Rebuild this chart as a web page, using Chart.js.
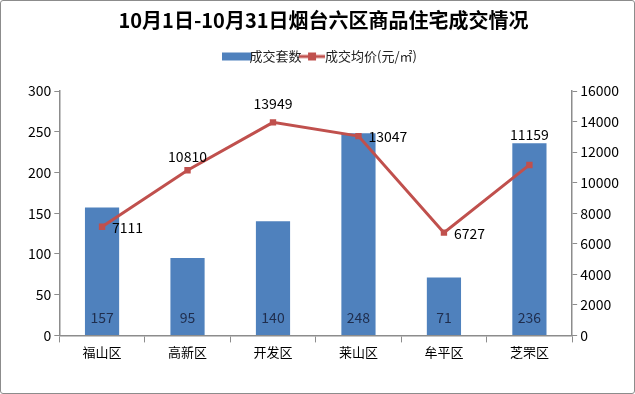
<!DOCTYPE html>
<html>
<head>
<meta charset="utf-8">
<script src="https://cdn.jsdelivr.net/npm/chart.js@4.4.0/dist/chart.umd.min.js"></script>
<style>
    html, body { margin: 0; padding: 0; background: #fff; }
    #wrap { position: relative; width: 633px; height: 392px; border: 1px solid #8c8c8c; border-radius: 3px; }
</style>
</head>
<body>
<div id="wrap"><canvas id="myChart" width="633" height="392"></canvas></div>
<script>
const districts = ['福山区', '高新区', '开发区', '莱山区', '牟平区', '芝罘区'];
const dealCount = [157, 95, 140, 248, 71, 236];
const avgPrice = [7111, 10810, 13949, 13047, 6727, 11159];
const countTicks = [0, 50, 100, 150, 200, 250, 300];
const priceTicks = [0, 2000, 4000, 6000, 8000, 10000, 12000, 14000, 16000];

// where each price label sits relative to its marker, and how far off
const priceLabelSide = ['right', 'top', 'top', 'right', 'right', 'top'];
const priceLabelGap = [10, 14, 19, 10, 10, 30];

const barColor = '#4F81BD';
const lineColor = '#C0504D';
const fontName = '"Noto Sans CJK SC", "Noto Sans", sans-serif';

// legend swatches
function swatch(kind) {
    let c = document.createElement('canvas');
    c.width = kind === 'bar' ? 30 : 26;
    c.height = 12;
    let g = c.getContext('2d');
    if (kind === 'bar') {
        g.fillStyle = barColor;
        g.fillRect(0, 2, 30, 8);
    } else {
        g.strokeStyle = lineColor;
        g.lineWidth = 3;
        g.beginPath();
        g.moveTo(0, 6);
        g.lineTo(26, 6);
        g.stroke();
        g.fillStyle = lineColor;
        g.fillRect(9, 2, 8, 8);
    }
    return c;
}

const legendGap = {
    id: 'legendGap',
    beforeInit(chart) {
        const fit = chart.legend.fit;
        chart.legend.fit = function () {
            fit.bind(chart.legend)();
            this.height += 18;
        };
    }
};

const valueLabels = {
    id: 'valueLabels',
    afterDatasetsDraw(chart) {
        let ctx = chart.ctx;
        ctx.save();
        ctx.font = '14px ' + fontName;
        ctx.textAlign = 'center';
        ctx.textBaseline = 'middle';
        ctx.fillStyle = '#1F2D4D';
        let bars = chart.getDatasetMeta(0).data;
        bars.forEach(function (bar, i) {
            ctx.fillText(dealCount[i], bar.x, chart.scales.y.bottom - 18);
        });
        ctx.fillStyle = '#000';
        let pts = chart.getDatasetMeta(1).data;
        pts.forEach(function (pt, i) {
            if (priceLabelSide[i] === 'right') {
                ctx.textAlign = 'left';
                ctx.fillText(avgPrice[i], pt.x + priceLabelGap[i], pt.y + 1);
            } else {
                ctx.textAlign = 'center';
                ctx.fillText(avgPrice[i], pt.x, pt.y - priceLabelGap[i]);
            }
        });
        ctx.restore();
    }
};

var ctx = document.getElementById('myChart').getContext('2d');

var myChart = new Chart(ctx, {
    type: 'bar',
    data: {
        labels: districts,
        datasets: [{
            label: '成交套数',
            data: dealCount,
            backgroundColor: barColor,
            barPercentage: 0.8,
            categoryPercentage: 0.5,
            yAxisID: 'y',
            order: 2
        }, {
            type: 'line',
            label: '成交均价(元/㎡)',
            data: avgPrice,
            borderColor: lineColor,
            backgroundColor: lineColor,
            borderWidth: 3,
            pointStyle: 'rect',
            pointRadius: 4.5,
            pointBorderWidth: 0,
            tension: 0,
            yAxisID: 'y1',
            order: 1
        }]
    },
    options: {
        responsive: false,
        animation: false,
        layout: { padding: { left: 24, right: 12, top: 0, bottom: 31 } },
        plugins: {
            title: {
                display: true,
                text: '10月1日-10月31日烟台六区商品住宅成交情况',
                color: '#000',
                font: { family: fontName, size: 20, weight: 'bold' },
                padding: { top: 7, bottom: 14 }
            },
            legend: {
                labels: {
                    usePointStyle: true,
                    color: '#222',
                    font: { family: fontName, size: 13 },
                    padding: 4,
                    generateLabels: function (chart) {
                        return chart.data.datasets.map(function (ds, i) {
                            return {
                                text: ds.label,
                                pointStyle: swatch(i === 0 ? 'bar' : 'line'),
                                fontColor: '#222',
                                datasetIndex: i,
                                hidden: false
                            };
                        });
                    }
                }
            },
            tooltip: { enabled: false }
        },
        scales: {
            x: {
                grid: { offset: true, drawOnChartArea: false, tickLength: 7, color: '#8c8c8c' },
                border: { color: '#8c8c8c', width: 1.5 },
                ticks: { color: '#000', font: { family: fontName, size: 13 }, padding: 2 }
            },
            y: {
                position: 'left',
                min: 0,
                max: 300,
                afterBuildTicks: function (axis) {
                    axis.ticks = countTicks.map(function (v) { return { value: v }; });
                },
                grid: { drawOnChartArea: false, tickLength: 5, color: '#8c8c8c' },
                border: { color: '#8c8c8c', width: 1.5 },
                ticks: { color: '#000', font: { family: fontName, size: 14 }, padding: 3 }
            },
            y1: {
                position: 'right',
                min: 0,
                max: 16000,
                afterBuildTicks: function (axis) {
                    axis.ticks = priceTicks.map(function (v) { return { value: v }; });
                },
                grid: { drawOnChartArea: false, tickLength: 5, color: '#8c8c8c' },
                border: { color: '#8c8c8c', width: 1.5 },
                ticks: {
                    color: '#000',
                    font: { family: fontName, size: 14 },
                    padding: 3,
                    callback: function (v) { return String(v); }
                }
            }
        }
    },
    plugins: [legendGap, valueLabels]
});
</script>
</body>
</html>
